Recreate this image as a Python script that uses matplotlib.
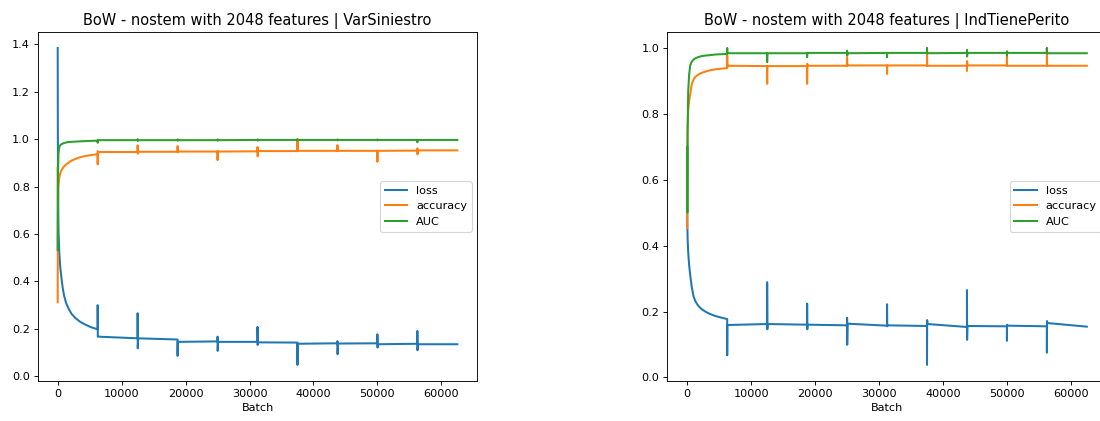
import matplotlib.pyplot as plt

# epoch boundaries (6250 batches per epoch, 10 epochs)
epoch_starts = [6250, 12500, 18750, 25000, 31250, 37500, 43750, 50000, 56250]
last_batch = 62500

# ---- VarSiniestro ----
var_first_batch = [0, 15, 50, 120, 250, 400, 600, 800, 1000, 1300, 1700, 2200, 2800, 3500, 4300, 5200, 6249]
var_first_loss = [1.385, 1.1, 0.8, 0.62, 0.52, 0.46, 0.41, 0.37, 0.34, 0.31, 0.285, 0.262, 0.245, 0.23,
                  0.218, 0.207, 0.198]
var_first_acc = [0.312, 0.53, 0.72, 0.80, 0.84, 0.857, 0.87, 0.878, 0.885, 0.893, 0.901, 0.910, 0.917, 0.924,
                 0.929, 0.933, 0.937]
var_first_auc = [0.88, 0.53, 0.86, 0.94, 0.967, 0.975, 0.979, 0.982, 0.984, 0.986, 0.988, 0.989, 0.990, 0.991,
                 0.992, 0.993, 0.994]

var_loss_spikes = [(0.30, 0.167), (0.266, 0.118), (0.086, 0.146), (0.167, 0.107), (0.208, 0.132),
                   (0.048, 0.138), (0.148, 0.093), (0.177, 0.121), (0.191, 0.110)]
var_loss_levels = [(0.167, 0.160), (0.160, 0.155), (0.145, 0.147), (0.145, 0.145), (0.143, 0.142),
                   (0.137, 0.139), (0.138, 0.139), (0.135, 0.137), (0.135, 0.135)]
var_acc_spikes = [(0.894, 0.950), (0.974, 0.939), (0.971, 0.945), (0.912, 0.949), (0.967, 0.928),
                  (1.0, 0.950), (0.975, 0.950), (0.905, 0.950), (0.961, 0.936)]
var_acc_levels = [(0.946, 0.946), (0.947, 0.947), (0.948, 0.948), (0.948, 0.949), (0.950, 0.950),
                  (0.951, 0.951), (0.951, 0.951), (0.951, 0.952), (0.953, 0.953)]
var_auc_spikes = [(0.985, 0.996), (1.0, 0.993), (0.999, 0.994), (0.999, 0.994), (0.999, 0.994),
                  (1.0, 0.995), (0.999, 0.995), (0.999, 0.995), (0.987, 0.997)]
var_auc_levels = [(0.996, 0.996), (0.996, 0.996), (0.996, 0.996), (0.996, 0.997), (0.997, 0.997),
                  (0.997, 0.997), (0.997, 0.997), (0.997, 0.997), (0.997, 0.997)]

# ---- IndTienePerito ----
ind_first_batch = [0, 15, 60, 150, 300, 470, 700, 1000, 1300, 1700, 2200, 2800, 3500, 4300, 5200, 6249]
ind_first_loss = [0.693, 0.47, 0.42, 0.38, 0.34, 0.31, 0.275, 0.245, 0.23, 0.218, 0.208, 0.2, 0.193, 0.187,
                  0.182, 0.177]
ind_first_acc = [0.453, 0.68, 0.76, 0.81, 0.84, 0.86, 0.89, 0.905, 0.913, 0.919, 0.924, 0.928, 0.932, 0.935,
                 0.937, 0.939]
ind_first_auc = [0.70, 0.50, 0.75, 0.87, 0.92, 0.948, 0.958, 0.965, 0.969, 0.972, 0.975, 0.977, 0.978, 0.980,
                 0.981, 0.982]

ind_loss_spikes = [(0.067, 0.159), (0.289, 0.146), (0.224, 0.146), (0.181, 0.099), (0.222, 0.155),
                   (0.038, 0.174), (0.265, 0.114), (0.111, 0.160), (0.075, 0.171)]
ind_loss_levels = [(0.159, 0.162), (0.162, 0.160), (0.160, 0.158), (0.163, 0.157), (0.158, 0.156),
                   (0.162, 0.153), (0.156, 0.155), (0.157, 0.155), (0.165, 0.154)]
ind_acc_spikes = [(0.977, 0.946), (0.891, 0.945), (0.891, 0.952), (0.972, 0.947), (0.921, 0.947),
                  (1.0, 0.945), (0.93, 0.96), (0.974, 0.946), (1.0, 0.946)]
ind_acc_levels = [(0.946, 0.945), (0.945, 0.945), (0.946, 0.946), (0.947, 0.947), (0.947, 0.947),
                  (0.946, 0.946), (0.947, 0.947), (0.946, 0.946), (0.946, 0.946)]
ind_auc_spikes = [(1.0, 0.984), (0.957, 0.984), (0.972, 0.985), (0.992, 0.977), (0.972, 0.985),
                  (1.0, 0.984), (0.994, 0.974), (0.977, 0.990), (1.0, 0.984)]
ind_auc_levels = [(0.984, 0.984), (0.984, 0.984), (0.985, 0.985), (0.984, 0.985), (0.985, 0.985),
                  (0.984, 0.985), (0.985, 0.985), (0.985, 0.985), (0.984, 0.984)]


def build_series(first_batch, first_vals, spikes, levels):
    x, y = list(first_batch), list(first_vals)
    ends = epoch_starts[1:] + [last_batch]
    for start, end, (a, b), (l0, l1) in zip(epoch_starts, ends, spikes, levels):
        x += [start, start + 20, start + 80, end - 1]
        y += [a, b, l0, l1]
    return x, y


def plot_history(ax, title, first_batch, series):
    for label, first_vals, spikes, levels in series:
        x, y = build_series(first_batch, first_vals, spikes, levels)
        ax.plot(x, y, label=label, linewidth=1.8)
    ax.set_title(title, fontsize=13)
    ax.set_xlabel('Batch')
    ax.legend(loc='center right')


fig = plt.figure(figsize=(1100 / 81, 421 / 81), dpi=81)
ax1 = fig.add_axes([0.0343, 0.0957, 0.3996, 0.828])
ax2 = fig.add_axes([0.6066, 0.0957, 0.3996, 0.828])

plot_history(ax1, 'BoW - nostem with 2048 features | VarSiniestro', var_first_batch, [
    ('loss', var_first_loss, var_loss_spikes, var_loss_levels),
    ('accuracy', var_first_acc, var_acc_spikes, var_acc_levels),
    ('AUC', var_first_auc, var_auc_spikes, var_auc_levels),
])
plot_history(ax2, 'BoW - nostem with 2048 features | IndTienePerito', ind_first_batch, [
    ('loss', ind_first_loss, ind_loss_spikes, ind_loss_levels),
    ('accuracy', ind_first_acc, ind_acc_spikes, ind_acc_levels),
    ('AUC', ind_first_auc, ind_auc_spikes, ind_auc_levels),
])

fig.savefig('out.png', dpi=81)
